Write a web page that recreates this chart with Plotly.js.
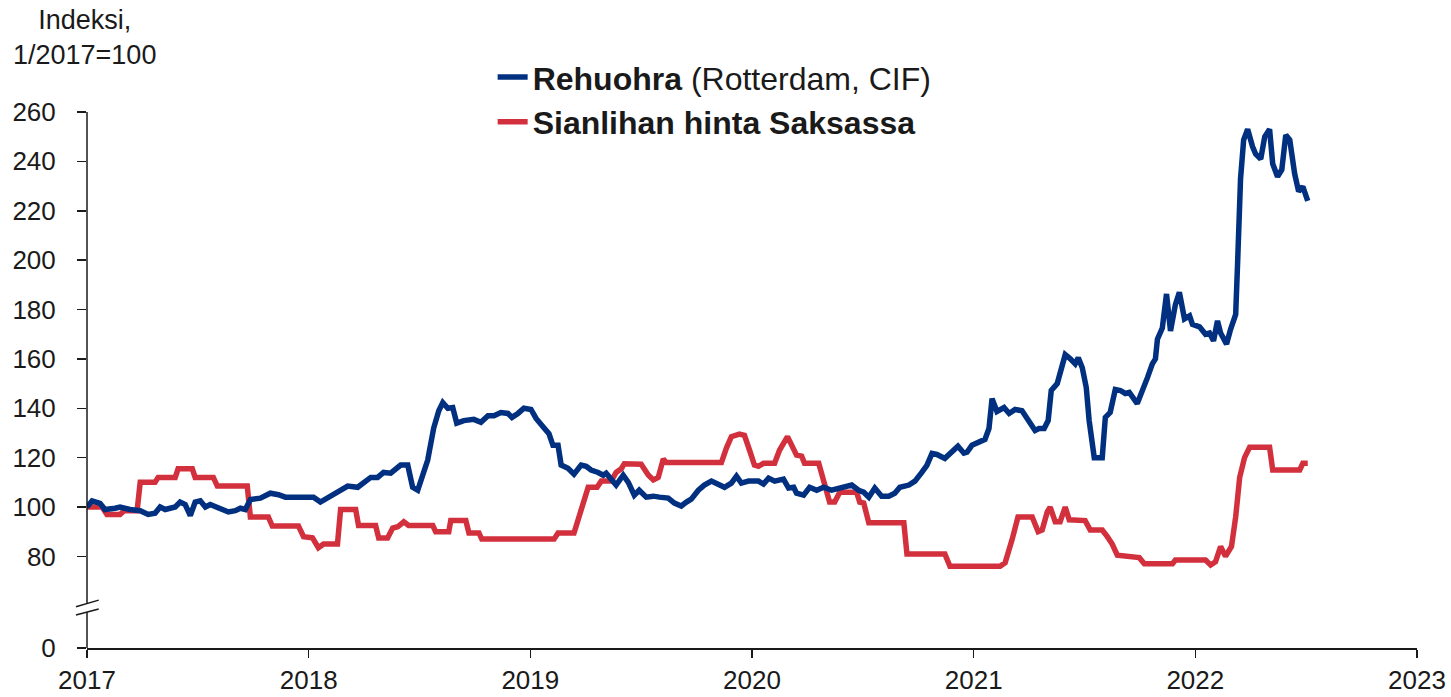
<!DOCTYPE html>
<html>
<head>
<meta charset="utf-8">
<script src="https://cdn.plot.ly/plotly-3.0.1.min.js"></script>
<style>
html,body{margin:0;padding:0;background:#fff;}
#chart{width:1451px;height:697px;}
</style>
</head>
<body>
<div id="chart"></div>
<script>
// Time in decimal years
const feedTime = [
2017.000,2017.023,2017.059,2017.081,2017.127,2017.149,2017.194,2017.240,2017.276,2017.307,
2017.330,2017.353,2017.375,2017.398,2017.420,2017.443,2017.466,2017.488,2017.511,2017.534,
2017.556,2017.579,2017.601,2017.638,2017.669,2017.692,2017.714,2017.737,2017.782,2017.827,
2017.864,2017.895,2017.918,2017.963,2018.022,2018.053,2018.099,2018.144,2018.176,2018.221,
2018.248,2018.280,2018.311,2018.338,2018.370,2018.415,2018.447,2018.469,2018.492,2018.515,
2018.537,2018.564,2018.587,2018.605,2018.628,2018.650,2018.668,2018.700,2018.745,2018.777,
2018.809,2018.836,2018.867,2018.899,2018.917,2018.944,2018.971,2019.003,2019.026,2019.062,
2019.084,2019.102,2019.125,2019.139,2019.170,2019.197,2019.229,2019.252,2019.274,2019.306,
2019.329,2019.342,2019.365,2019.387,2019.419,2019.442,2019.469,2019.491,2019.523,2019.555,
2019.582,2019.622,2019.650,2019.681,2019.704,2019.726,2019.758,2019.785,2019.817,2019.848,
2019.876,2019.907,2019.930,2019.952,2019.984,2020.029,2020.052,2020.075,2020.102,2020.142,
2020.165,2020.188,2020.201,2020.233,2020.260,2020.292,2020.323,2020.359,2020.405,2020.450,
2020.481,2020.504,2020.527,2020.554,2020.585,2020.617,2020.644,2020.667,2020.708,2020.735,
2020.766,2020.789,2020.812,2020.834,2020.870,2020.902,2020.929,2020.956,2020.970,2020.992,
2021.029,2021.051,2021.069,2021.083,2021.105,2021.137,2021.160,2021.187,2021.218,2021.241,
2021.277,2021.295,2021.318,2021.336,2021.350,2021.377,2021.399,2021.413,2021.436,2021.458,
2021.472,2021.490,2021.508,2021.521,2021.544,2021.580,2021.594,2021.616,2021.639,2021.662,
2021.684,2021.702,2021.738,2021.761,2021.784,2021.806,2021.820,2021.829,2021.851,2021.870,
2021.888,2021.910,2021.928,2021.951,2021.974,2021.987,2022.019,2022.046,2022.064,2022.082,
2022.100,2022.114,2022.141,2022.159,2022.182,2022.191,2022.204,2022.218,2022.236,2022.258,
2022.272,2022.295,2022.313,2022.335,2022.349,2022.371,2022.390,2022.408,2022.426,2022.448,
2022.466,2022.485,2022.507
];
const feedIndex = [
100,102.5,101.5,99,99.5,100,99,98.5,97,97.5,
100,99,99.5,100,102,101,96.5,102,102.5,100,
101,100,99,98,98.5,99.5,99,103,103.6,105.6,
105,104,104,104,104,102,104.4,107,108.5,108,
110,112,112,114,113.7,117,117,108,106.8,113,
119,132,139,142.3,140,140.3,134,135,135.5,134.3,
137,137,138.3,137.9,136.3,137.9,140,139.5,135.9,132,
129.7,125,125,117,115.7,113.3,117,116.5,115,114,
112.9,113.7,110.9,108.9,112.9,110,104.8,106.8,104,104.4,
104,103.6,101.6,100.4,102,103.2,106.8,108.9,110.5,108.9,
108,109.7,112.5,109.7,110.5,110.5,109.3,111.7,110.5,111.3,
107.7,108,105.6,104.8,108,106.8,108,106.8,107.7,108.9,
106.8,106,104,107.7,104.4,104.4,105.6,108,108.9,110.5,
114,116.9,121.7,121.3,119.7,122.2,124.6,121.8,122.2,125,
126.6,127.4,131.8,143.9,138.7,140.3,137.9,139.5,139,135.9,
131,131.8,131.8,135,147.2,150,156.4,161.7,160,158,
160.5,156.4,148.4,135,120,120,136.3,138.3,147.6,147.2,
146,146.4,141.9,148,152.4,158,160,168,172.5,186.3,
171.3,182,187,176.2,177.4,174,173,170,170.5,167.3,
175.4,170.5,166,172,178,199.6,233,248.7,253,246,
243,241,250,253,239,233.8,236.6,250.7,248.7,235,
227.8,229.8,224
];
const porkTime = [
2017.000,2017.068,2017.090,2017.149,2017.167,2017.226,2017.240,2017.307,2017.321,2017.398,
2017.411,2017.475,2017.488,2017.570,2017.588,2017.723,2017.737,2017.818,2017.836,2017.954,
2017.977,2018.017,2018.044,2018.067,2018.130,2018.144,2018.212,2018.225,2018.302,2018.316,
2018.356,2018.379,2018.402,2018.429,2018.451,2018.560,2018.573,2018.632,2018.641,2018.709,
2018.723,2018.768,2018.781,2019.107,2019.125,2019.197,2019.261,2019.301,2019.320,2019.365,
2019.387,2019.410,2019.424,2019.500,2019.532,2019.555,2019.577,2019.600,2019.613,2019.862,
2019.885,2019.907,2019.943,2019.966,2019.989,2020.011,2020.029,2020.052,2020.102,2020.124,
2020.160,2020.188,2020.201,2020.224,2020.237,2020.301,2020.328,2020.350,2020.373,2020.396,
2020.472,2020.486,2020.504,2020.527,2020.685,2020.699,2020.870,2020.893,2021.119,2021.142,
2021.173,2021.200,2021.264,2021.291,2021.309,2021.332,2021.345,2021.368,2021.390,2021.413,
2021.431,2021.503,2021.526,2021.580,2021.603,2021.625,2021.648,2021.716,2021.747,2021.770,
2021.897,2021.910,2022.046,2022.069,2022.091,2022.114,2022.136,2022.163,2022.182,2022.200,
2022.222,2022.245,2022.335,2022.349,2022.471,2022.485,2022.507
];
const porkIndex = [
100,100,97,97,98.5,98.5,110,110,112,112,
115.5,115.5,112,112,108.5,108.5,96,96,92.3,92.3,
88,87.5,83.5,85,85,99,99,92.5,92.5,87.5,
87.5,91.5,92,94,92.5,92.5,90,90,94.5,94.5,
89.5,89.5,87,87,89.5,89.5,108,108,110.5,110.5,
114,115.5,117.5,117.3,113,111,112,119.5,118,118,
124,128.5,129.5,129,123,117,116.5,117.7,117.7,123,
128.5,124,121,120.6,117.7,117.7,110,102,102,106,
106,102,101.6,93.6,93.6,81,81,76,76,77.4,
86.7,96,96,90,90.7,98,100,94,94,100,
94.8,94.5,90.7,90.7,88,85,80.5,80,79.5,77,
77,78.5,78.5,76.5,77.8,84,80,84,96,112,
120,124.2,124.2,115,115,117.7,117.7
];
const seriesNames = ['<b>Rehuohra</b> (Rotterdam, CIF)', '<b>Sianlihan hinta Saksassa</b>'];
const yTickValues = [80,100,120,140,160,180,200,220,240,260];
const yTickLabels = ['80','100','120','140','160','180','200','220','240','260'];
const xTickYears = [2017,2018,2019,2020,2021,2022,2023];

// axis break: '0' is drawn at the bottom of a compressed axis
const ZERO_POS = 42.9;
const FONT = 'Liberation Sans, Arial, sans-serif';
const BLUE = '#00307f';
const RED = '#d3303e';

const traces = [
  {x: porkTime, y: porkIndex, type: 'scatter', mode: 'lines', name: seriesNames[1],
   line: {color: RED, width: 5.5}, legendgroup: 'b', legendrank: 2},
  {x: feedTime, y: feedIndex, type: 'scatter', mode: 'lines', name: seriesNames[0],
   line: {color: BLUE, width: 5.5}, legendgroup: 'a', legendrank: 1}
];

const axisColor = '#1a1a1a';
const shapes = [
  // y axis line in two pieces with a break
  {type: 'line', xref: 'paper', yref: 'y', x0: 0, x1: 0, y0: ZERO_POS, y1: 57.5, line: {color: axisColor, width: 1.5}},
  {type: 'line', xref: 'paper', yref: 'y', x0: 0, x1: 0, y0: 60.9, y1: 260, line: {color: axisColor, width: 1.5}},
  {type: 'line', xref: 'paper', yref: 'y', x0: -0.0083, x1: 0.0088, y0: 56.3, y1: 58.7, line: {color: axisColor, width: 1.5}},
  {type: 'line', xref: 'paper', yref: 'y', x0: -0.0083, x1: 0.0088, y0: 59.6, y1: 62.3, line: {color: axisColor, width: 1.5}}
];

const layout = {
  width: 1451, height: 697,
  margin: {l: 87, r: 34, t: 112, b: 49},
  paper_bgcolor: '#fff', plot_bgcolor: '#fff',
  font: {family: FONT, size: 26, color: '#1a1a1a'},
  showlegend: true,
  legend: {x: 0.305, y: 1.116, xanchor: 'left', yanchor: 'top', bgcolor: 'rgba(0,0,0,0)',
           font: {family: FONT, size: 32, color: '#1a1a1a'}, traceorder: 'normal', tracegroupgap: 5},
  xaxis: {
    type: 'linear', range: [2017, 2023], tickvals: xTickYears, ticktext: xTickYears.map(String),
    showgrid: false, zeroline: false, showline: true, linecolor: axisColor, linewidth: 1.5,
    ticks: 'outside', ticklen: 8, tickwidth: 1.5, tickcolor: axisColor,
    tickfont: {family: FONT, size: 26, color: '#1a1a1a'}, ticklabelstandoff: 0
  },
  yaxis: {
    range: [ZERO_POS, 260], tickvals: [ZERO_POS].concat(yTickValues), ticktext: ['0'].concat(yTickLabels),
    showgrid: false, zeroline: false, showline: false,
    ticks: 'outside', ticklen: 9, tickwidth: 1.5, tickcolor: axisColor,
    tickfont: {family: FONT, size: 26, color: '#1a1a1a'}, ticklabelstandoff: 16
  },
  shapes: shapes,
  annotations: [
    {xref: 'paper', yref: 'paper', x: -0.002, y: 1.203, xanchor: 'center', yanchor: 'top',
     text: 'Indeksi,<br>1/2017=100', showarrow: false, align: 'center',
     font: {family: FONT, size: 27, color: '#1a1a1a'}}
  ]
};

Plotly.newPlot('chart', traces, layout, {displayModeBar: false, staticPlot: true});
</script>
</body>
</html>
